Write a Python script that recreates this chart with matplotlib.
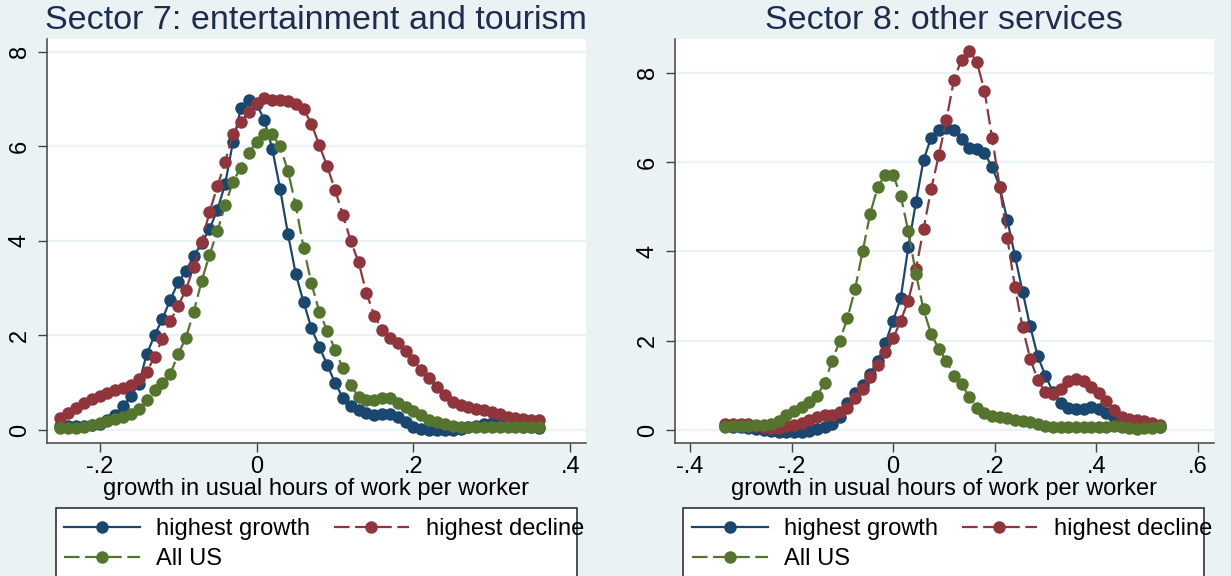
#!/usr/bin/env python3
"""Kernel densities of hours growth per worker, sectors 7 and 8."""

import matplotlib

matplotlib.use("Agg")
import matplotlib.pyplot as plt
from matplotlib.lines import Line2D
from matplotlib.patches import Rectangle

plt.rcParams["font.family"] = ["Liberation Sans", "DejaVu Sans"]

BG = "#EAF2F3"
NAVY = "#1A476F"
MAROON = "#90353B"
GREEN = "#55752F"
TITLE_C = "#1E2C4E"

# sector 7: entertainment and tourism
s7_x = [-0.25, -0.24, -0.23, -0.22, -0.21, -0.20, -0.19, -0.18, -0.17, -0.16,
        -0.15, -0.14, -0.13, -0.12, -0.11, -0.10, -0.09, -0.08, -0.07, -0.06,
        -0.05, -0.04, -0.03, -0.02, -0.01, 0.00, 0.01, 0.02, 0.03, 0.04,
        0.05, 0.06, 0.07, 0.08, 0.09, 0.10, 0.11, 0.12, 0.13, 0.14,
        0.15, 0.16, 0.17, 0.18, 0.19, 0.20, 0.21, 0.22, 0.23, 0.24,
        0.25, 0.26, 0.27, 0.28, 0.29, 0.30, 0.31, 0.32, 0.33, 0.34,
        0.35, 0.36]
s7_growth = [0.08, 0.09, 0.09, 0.09, 0.10, 0.13, 0.20, 0.32, 0.50, 0.72,
             0.98, 1.60, 2.00, 2.35, 2.75, 3.12, 3.36, 3.68, 3.95, 4.25,
             4.65, 5.20, 6.10, 6.80, 6.98, 6.90, 6.55, 5.95, 5.10, 4.15,
             3.30, 2.70, 2.15, 1.76, 1.38, 1.00, 0.68, 0.50, 0.43, 0.36,
             0.31, 0.33, 0.33, 0.27, 0.17, 0.07, 0.02, 0.00, -0.01, -0.01,
             0.00, 0.03, 0.06, 0.09, 0.12, 0.14, 0.13, 0.11, 0.09, 0.07,
             0.06, 0.05]
s7_decline = [0.25, 0.35, 0.47, 0.56, 0.65, 0.72, 0.78, 0.84, 0.89, 0.96,
              1.07, 1.22, 1.55, 1.92, 2.30, 2.62, 2.97, 3.45, 3.98, 4.60,
              5.15, 5.67, 6.27, 6.52, 6.72, 6.92, 7.03, 6.99, 6.97, 6.95,
              6.90, 6.78, 6.48, 6.02, 5.58, 5.08, 4.55, 4.00, 3.55, 2.90,
              2.42, 2.12, 1.95, 1.84, 1.68, 1.47, 1.27, 1.09, 0.90, 0.73,
              0.60, 0.52, 0.48, 0.45, 0.42, 0.39, 0.33, 0.28, 0.26, 0.24,
              0.22, 0.20]
s7_all = [0.04, 0.04, 0.04, 0.07, 0.10, 0.14, 0.19, 0.23, 0.27, 0.33,
          0.44, 0.63, 0.85, 1.00, 1.18, 1.60, 1.95, 2.50, 3.15, 3.70,
          4.20, 4.76, 5.25, 5.55, 5.85, 6.10, 6.25, 6.25, 6.00, 5.48,
          4.75, 3.85, 3.10, 2.50, 2.10, 1.70, 1.30, 0.95, 0.70, 0.64,
          0.64, 0.68, 0.68, 0.58, 0.49, 0.40, 0.31, 0.22, 0.16, 0.12,
          0.09, 0.06, 0.06, 0.06, 0.06, 0.06, 0.06, 0.06, 0.06, 0.06,
          0.06, 0.06]

# sector 8: other services
s8_x = [-0.330, -0.315, -0.300, -0.285, -0.270, -0.255, -0.240, -0.225,
        -0.210, -0.195, -0.180, -0.165, -0.150, -0.135, -0.120, -0.105,
        -0.090, -0.075, -0.060, -0.045, -0.030, -0.015, 0.000, 0.015,
        0.030, 0.045, 0.060, 0.075, 0.090, 0.105, 0.120, 0.135,
        0.150, 0.165, 0.180, 0.195, 0.210, 0.225, 0.240, 0.255,
        0.270, 0.285, 0.300, 0.315, 0.330, 0.345, 0.360, 0.375,
        0.390, 0.405, 0.420, 0.435, 0.450, 0.465, 0.480, 0.495,
        0.510, 0.525]
s8_growth = [0.08, 0.07, 0.06, 0.04, 0.02, 0.00, -0.03, -0.04,
             -0.04, -0.04, -0.04, -0.03, 0.02, 0.07, 0.14, 0.30,
             0.60, 0.82, 1.00, 1.26, 1.55, 1.95, 2.45, 2.95,
             4.10, 5.10, 6.05, 6.55, 6.72, 6.77, 6.72, 6.52,
             6.32, 6.30, 6.20, 5.90, 5.45, 4.70, 3.90, 3.10,
             2.32, 1.65, 1.22, 0.85, 0.60, 0.50, 0.46, 0.47,
             0.52, 0.48, 0.38, 0.28, 0.20, 0.17, 0.15, 0.14,
             0.10, 0.07]
s8_decline = [0.13, 0.14, 0.14, 0.13, 0.10, 0.06, 0.04, 0.05,
              0.08, 0.11, 0.16, 0.23, 0.30, 0.33, 0.34, 0.40,
              0.50, 0.72, 0.92, 1.18, 1.45, 1.75, 2.05, 2.45,
              2.90, 3.60, 4.50, 5.40, 6.15, 6.95, 7.85, 8.30,
              8.49, 8.25, 7.60, 6.55, 5.45, 4.30, 3.20, 2.30,
              1.60, 1.12, 0.84, 0.80, 0.92, 1.10, 1.15, 1.10,
              0.96, 0.82, 0.65, 0.45, 0.30, 0.25, 0.23, 0.21,
              0.16, 0.11]
s8_all = [0.07, 0.08, 0.08, 0.10, 0.11, 0.12, 0.14, 0.20,
          0.33, 0.43, 0.52, 0.62, 0.76, 1.05, 1.55, 2.00,
          2.50, 3.15, 4.00, 4.85, 5.45, 5.72, 5.72, 5.25,
          4.45, 3.50, 2.70, 2.15, 1.82, 1.55, 1.22, 1.02,
          0.75, 0.50, 0.38, 0.32, 0.29, 0.26, 0.23, 0.21,
          0.18, 0.13, 0.08, 0.06, 0.06, 0.07, 0.07, 0.06,
          0.06, 0.06, 0.07, 0.08, 0.07, 0.04, 0.03, 0.04,
          0.05, 0.06]

s7_xticks = [-0.2, 0.0, 0.2, 0.4]
s7_xlabels = ["-.2", "0", ".2", ".4"]
s8_xticks = [-0.4, -0.2, 0.0, 0.2, 0.4, 0.6]
s8_xlabels = ["-.4", "-.2", "0", ".2", ".4", ".6"]
yticks = [0, 2, 4, 6, 8]

series_labels = ["highest growth", "highest decline", "All US"]

DASH = (0, (7, 2.5))
STYLES = [
    dict(color=NAVY, linestyle="-"),
    dict(color=MAROON, linestyle=DASH),
    dict(color=GREEN, linestyle=DASH),
]
FS = 17
MS = 9.0


def draw_panel(fig, rect, title, x, ys, xlim, ylim, xticks, xlabels):
    ax = fig.add_axes(rect)
    ax.set_facecolor("white")
    for y, st in zip(ys, STYLES):
        ax.plot(x, y, marker="o", markersize=MS, markeredgewidth=0,
                linewidth=1.6, **st)
    ax.set_xlim(*xlim)
    ax.set_ylim(*ylim)
    ax.set_xticks(xticks)
    ax.set_xticklabels(xlabels)
    ax.set_yticks(yticks)
    ax.set_yticklabels([str(v) for v in yticks], rotation=90, va="center")
    ax.grid(True, axis="y", color=BG, linewidth=1.6)
    ax.set_axisbelow(True)
    for side in ("top", "right"):
        ax.spines[side].set_visible(False)
    for side in ("left", "bottom"):
        ax.spines[side].set_color("#444444")
        ax.spines[side].set_linewidth(1.1)
    ax.tick_params(axis="both", direction="out", length=6.5, width=1.0,
                   color="#444444", labelsize=FS, labelcolor="black")
    ax.tick_params(axis="x", pad=3)
    ax.tick_params(axis="y", pad=5)
    ax.set_xlabel("growth in usual hours of work per worker", fontsize=FS,
                  labelpad=0)
    ax.set_title(title, fontsize=24.5, color=TITLE_C, pad=7)
    return ax


def add_legend(fig, box_x0, box_x1, anchor_x):
    box = Rectangle((box_x0, -0.05), box_x1 - box_x0, 0.168,
                    transform=fig.transFigure, facecolor="white",
                    edgecolor="#222222", linewidth=1.1, zorder=2)
    fig.add_artist(box)
    handles = [Line2D([], [], marker="o", markersize=MS, markeredgewidth=0,
                      linewidth=1.6, **st) for st in STYLES]
    # column-wise fill: growth / All US in the first column, decline second
    order = [0, 2, 1]
    leg = fig.legend([handles[i] for i in order],
                     [series_labels[i] for i in order],
                     ncol=2, frameon=False, fontsize=FS, loc="upper left",
                     bbox_to_anchor=(anchor_x, 1 - 518 / 576),
                     borderpad=0, borderaxespad=0,
                     handlelength=3.2, handletextpad=0.7, columnspacing=1.0,
                     labelspacing=0.35, numpoints=1)
    leg.set_zorder(3)


def main():
    fig = plt.figure(figsize=(12.31, 5.76), dpi=100)
    fig.patch.set_facecolor(BG)

    draw_panel(fig, [0.0379, 0.2314, 0.4382, 0.7009],
               "Sector 7: entertainment and tourism", s7_x,
               [s7_growth, s7_decline, s7_all], (-0.2675, 0.42),
               (-0.27, 8.27), s7_xticks, s7_xlabels)
    draw_panel(fig, [0.5481, 0.2314, 0.4381, 0.7009],
               "Sector 8: other services", s8_x,
               [s8_growth, s8_decline, s8_all], (-0.43, 0.632),
               (-0.285, 8.76), s8_xticks, s8_xlabels)

    add_legend(fig, 56 / 1231, 577 / 1231, 64 / 1231)
    add_legend(fig, 683 / 1231, 1204 / 1231, 692 / 1231)

    fig.savefig("out.png", dpi=100, facecolor=BG)
    plt.close(fig)


if __name__ == "__main__":
    main()
